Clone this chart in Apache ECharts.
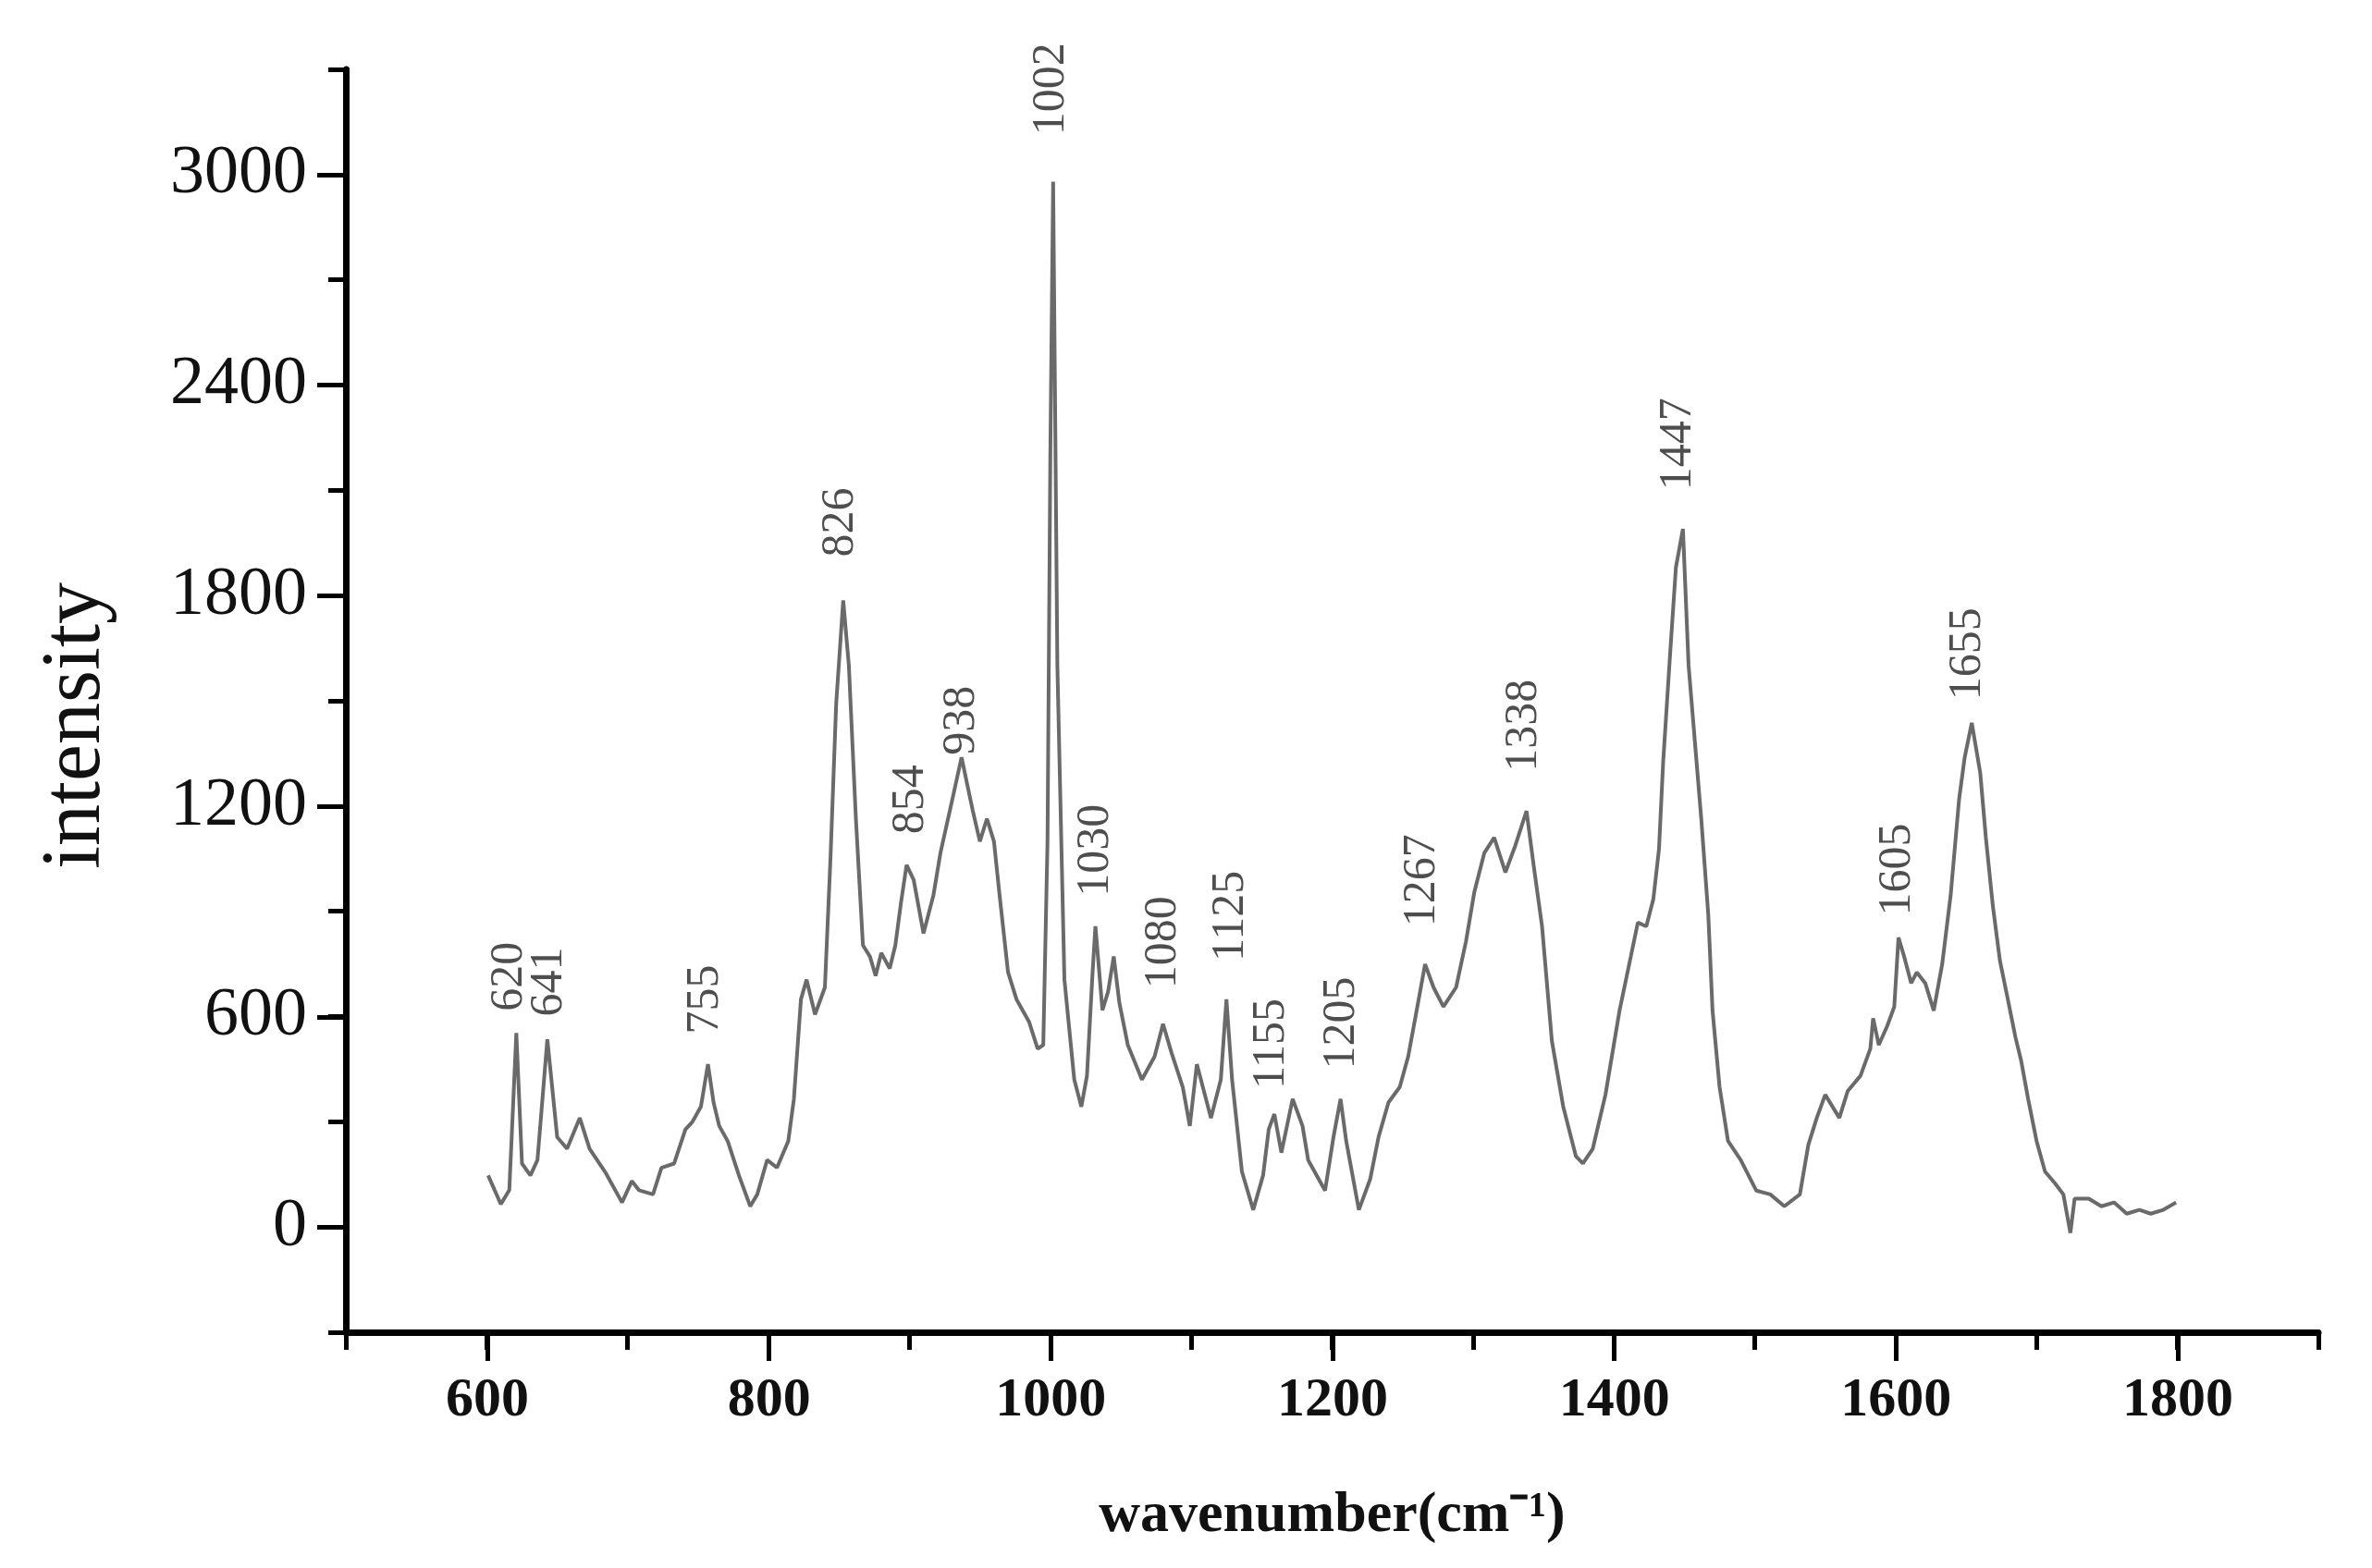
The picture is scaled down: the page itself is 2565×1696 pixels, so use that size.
<!DOCTYPE html>
<html>
<head>
<meta charset="utf-8">
<script src="https://cdn.jsdelivr.net/npm/echarts@6/dist/echarts.min.js"></script>
<style>
html,body{margin:0;padding:0;background:#fff;}
#chart{width:2565px;height:1696px;}
</style>
</head>
<body>
<div id="chart"></div>
<script>
// Raman spectrum: wavenumber (cm-1) and intensity
const wavenumber = [601,610,616,621,625,631,636,643,647,650,657,666,673,684,696,703,708,718,724,733,741,746,752,757,761,765,771,779,787,792,799,806,814,818,823,827,833,840,844,848,853,857,862,867,872,876,880,886,890,894,898,903,910,917,922,931,937,941,945,950,955,960,964,970,976,985,991,995,998,1000,1002,1005,1010,1017,1022,1026,1030,1032,1037,1041,1045,1049,1055,1065,1074,1080,1086,1094,1099,1104,1114,1121,1125,1129,1136,1144,1151,1155,1159,1164,1172,1179,1183,1195,1201,1206,1210,1219,1227,1233,1240,1248,1254,1259,1266,1272,1279,1288,1295,1301,1308,1315,1323,1330,1338,1343,1349,1356,1364,1373,1378,1385,1394,1404,1412,1417,1423,1428,1432,1435,1440,1444,1449,1453,1462,1467,1470,1475,1481,1490,1501,1511,1521,1532,1538,1544,1550,1560,1566,1575,1582,1584,1588,1594,1599,1602,1606,1611,1615,1621,1627,1633,1639,1645,1649,1654,1660,1664,1669,1674,1679,1685,1689,1694,1700,1706,1713,1719,1724,1727,1737,1746,1755,1764,1773,1781,1790,1799];
const intensity = [147,65,105,553,181,147,191,535,376,256,223,311,223,157,70,131,105,93,169,181,278,300,343,464,355,288,245,147,59,93,191,169,245,365,649,705,606,683,1055,1491,1786,1601,1164,803,771,716,781,737,803,924,1032,990,837,945,1066,1229,1339,1262,1186,1099,1164,1099,945,726,649,584,508,519,1099,2200,2980,1601,705,420,343,431,726,857,618,671,771,639,519,420,486,579,497,399,288,464,311,420,649,420,158,49,147,278,322,212,365,288,191,104,257,365,245,49,136,257,355,399,486,595,749,683,628,683,814,956,1066,1110,1011,1087,1186,1032,857,530,344,202,181,223,377,617,771,868,857,935,1077,1328,1640,1880,1990,1601,1164,890,617,399,245,191,104,93,59,93,234,311,377,311,388,431,508,595,519,573,628,825,771,695,726,695,617,749,945,1219,1339,1437,1295,1110,914,759,661,541,475,365,245,158,125,93,-17,81,81,59,70,38,49,38,49,70];

// Peak annotations: text, wavenumber and intensity where the label starts
const peakText = ["620","641","755","826","854","938","1002","1030","1080","1125","1155","1205","1267","1338","1447","1605","1655"];
const peakWn   = [616,644,755,851,901,937,1001,1032,1080,1128,1157,1207,1264,1336,1446,1601,1651];
const peakInt  = [615,600,550,1910,1120,1345,3112,942,680,757,393,450,856,1298,2100,887,1502];

// Axis ticks
const yLabelTicks = [0,600,1200,1800,2400,3000];
const xLabelTicks = [600,800,1000,1200,1400,1600,1800];

const serif = "Liberation Serif";
const chart = echarts.init(document.getElementById('chart'), null, {renderer:'canvas'});

const spectrum = wavenumber.map((w,i)=>[w,intensity[i]]);
const peaks = peakText.map((t,i)=>({value:[peakWn[i],peakInt[i]], name:t}));

chart.setOption({
  backgroundColor:'#ffffff',
  animation:false,
  grid:[
    {left:374, right:58, top:75, bottom:255},
    {left:527, right:210, top:189, bottom:368.5}
  ],
  xAxis:[
    {gridIndex:0, type:'value', min:500, max:1900, interval:100,
     axisLine:{show:true, onZero:false, lineStyle:{color:'#000', width:7}},
     axisTick:{show:true, length:19, lineStyle:{color:'#000', width:5}},
     axisLabel:{show:false}, splitLine:{show:false},
     name:'wavenumber(cm⁻¹)', nameLocation:'middle', nameGap:168,
     nameTextStyle:{fontFamily:serif, fontWeight:'bold', fontSize:62, color:'#111'}},
    {gridIndex:1, type:'value', min:xLabelTicks[0], max:xLabelTicks[xLabelTicks.length-1], interval:200,
     offset:113.5,
     axisLine:{show:false, onZero:false},
     axisTick:{show:true, length:31, lineStyle:{color:'#000', width:5}},
     axisLabel:{show:true, margin:44, fontFamily:serif, fontWeight:'bold', fontSize:60, color:'#111',
                formatter:v=>String(v)},
     splitLine:{show:false}}
  ],
  yAxis:[
    {gridIndex:0, type:'value', min:-300, max:3300, interval:300,
     axisLine:{show:true, onZero:false, lineStyle:{color:'#000', width:7}},
     axisTick:{show:true, length:19, lineStyle:{color:'#000', width:5}},
     axisLabel:{show:false}, splitLine:{show:false},
     name:'intensity', nameLocation:'middle', nameGap:246,
     nameTextStyle:{fontFamily:serif, fontSize:90, color:'#111', padding:[0,54,0,0]}},
    {gridIndex:1, type:'value', min:yLabelTicks[0], max:yLabelTicks[yLabelTicks.length-1], interval:600,
     offset:153,
     axisLine:{show:false, onZero:false},
     axisTick:{show:true, length:31, lineStyle:{color:'#000', width:5}},
     axisLabel:{show:true, margin:42, fontFamily:serif, fontSize:74, color:'#111',
                padding:[36,0,0,0], formatter:v=>String(v)},
     splitLine:{show:false}}
  ],
  series:[
    {type:'line', xAxisIndex:0, yAxisIndex:0, data:spectrum, showSymbol:false, symbol:'none',
     lineStyle:{color:'#6a6a6a', width:4}, clip:false},
    {type:'scatter', xAxisIndex:0, yAxisIndex:0, data:peaks, symbolSize:0, clip:false,
     label:{show:true, position:'inside', rotate:90, align:'left', verticalAlign:'middle',
            formatter:p=>p.name, fontFamily:serif, fontSize:50, color:'#222'}}
  ]
});
</script>
</body>
</html>
